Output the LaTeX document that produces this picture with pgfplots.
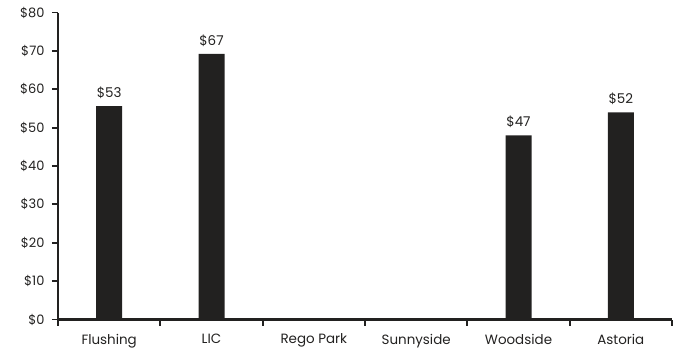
\documentclass[border=0pt]{standalone}
\usepackage{pgfplots}
\pgfplotsset{compat=1.18}
\usepackage{fontspec}
\setmainfont{Poppins}
\definecolor{barcol}{HTML}{222120}

\begin{document}
\begin{tikzpicture}
\begin{axis}[
    scale only axis,
    width=614bp, height=307bp,
    xmin=-0.5, xmax=5.5,
    ymin=0, ymax=80,
    axis lines*=left,
    axis line style={barcol, line width=2.6bp},
    xtick={0,...,5},
    xticklabels={Flushing,LIC,Rego Park,Sunnyside,Woodside,Astoria},
    major x tick style={draw=none},
    minor xtick={-0.5,0.5,...,5.5},
    minor tick length=6bp,
    minor x tick style={barcol, line width=1.8bp},
    ytick={0,10,...,80},
    yticklabels={\$0,\$10,\$20,\$30,\$40,\$50,\$60,\$70,\$80},
    major tick length=6bp,
    major y tick style={barcol, line width=1.8bp},
    tick align=outside,
    ticklabel style={text=barcol},
    xticklabel style={font=\fontsize{13.5}{15}\selectfont, yshift=-5bp},
    yticklabel style={font=\fontsize{13}{15}\selectfont, xshift=-4bp},
    nodes near coords,
    point meta=explicit symbolic,
    every node near coord/.append style={font=\fontsize{13.5}{15}\selectfont, text=barcol, yshift=4bp},
]
\addplot[ybar, bar width=26bp, fill=barcol, draw=none] coordinates {
    (0,55.6) [\$53]
    (1,69.2) [\$67]
    (4,48.0) [\$47]
    (5,54.0) [\$52]
};
\end{axis}
\pgfresetboundingbox
\path[use as bounding box] (-58bp,-38.5bp) rectangle (625bp,319.5bp);
\end{tikzpicture}
\end{document}
